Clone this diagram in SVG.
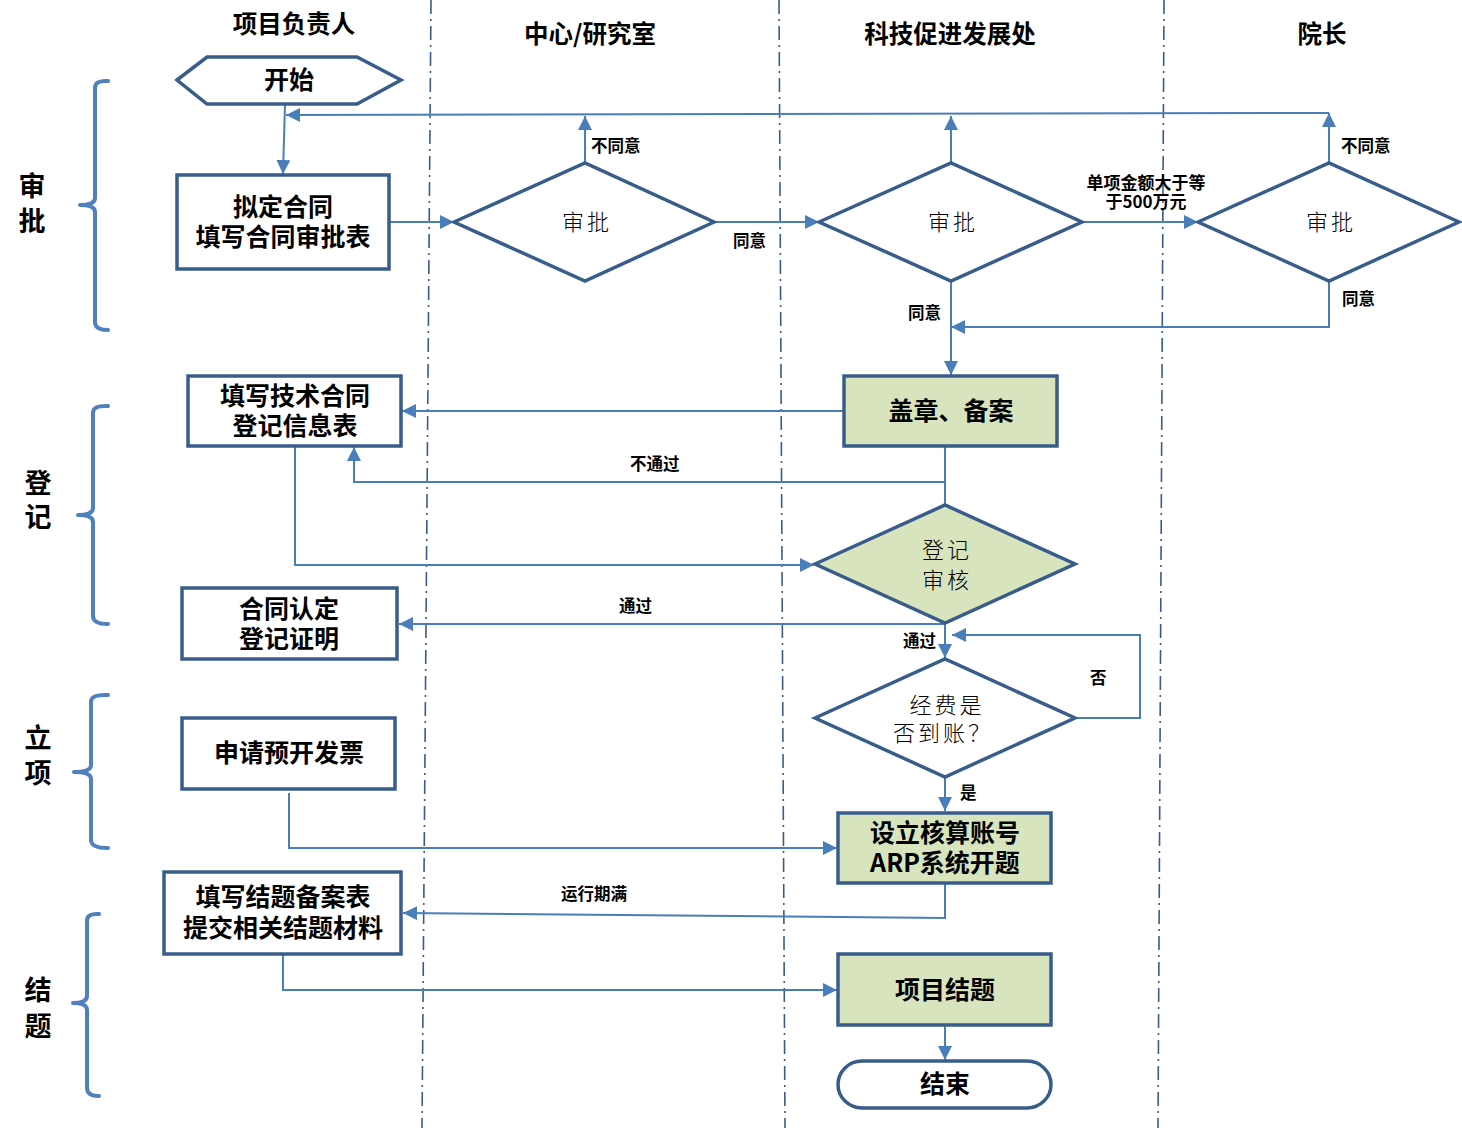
<svg xmlns="http://www.w3.org/2000/svg" width="1462" height="1128" viewBox="0 0 1462 1128">
<defs>
<style>
.lane{stroke:#3a5a8a;stroke-width:1.6;stroke-dasharray:14 5 2 5;fill:none}
.hdr{font-family:"Noto Sans CJK SC","Liberation Sans",sans-serif;font-weight:bold;font-size:24.5px;fill:#000;text-anchor:middle}
.side{font-family:"Noto Sans CJK SC","Liberation Sans",sans-serif;font-weight:bold;font-size:27px;fill:#000;text-anchor:middle}
.brace{stroke:#4f81bd;stroke-width:4;fill:none;stroke-linejoin:round;stroke-linecap:round}
.box{fill:#fff;stroke:#385d8a;stroke-width:3.5}
.gbox{fill:#d7e4bd;stroke:#385d8a;stroke-width:3.5}
.bt{font-family:"Noto Sans CJK SC","Liberation Sans",sans-serif;font-weight:bold;font-size:25px;fill:#000;text-anchor:middle}
.dt{font-family:"Noto Sans CJK SC","Liberation Sans",sans-serif;font-weight:300;font-size:22px;fill:#000;text-anchor:middle;letter-spacing:3px}
.lbl{font-family:"Noto Sans CJK SC","Liberation Sans",sans-serif;font-weight:bold;font-size:16.5px;fill:#000}
.c{stroke:#4a7ebb;stroke-width:2;fill:none}
</style>
<marker id="ahb" viewBox="0 0 10 10" refX="10" refY="5" markerWidth="14" markerHeight="14" markerUnits="userSpaceOnUse" orient="auto"><path d="M0,0 L10,5 L0,10 z" fill="#4a7ebb"/></marker>
</defs>
<rect width="1462" height="1128" fill="#fff"/>
<g id="lanes">
<line class="lane" x1="431" y1="0" x2="422" y2="1128"/>
<line class="lane" x1="779" y1="0" x2="785" y2="1128"/>
<line class="lane" x1="1164" y1="0" x2="1158" y2="1128"/>
</g>
<g id="headers">
<text class="hdr" x="294" y="33">项目负责人</text>
<text class="hdr" x="590" y="43">中心/研究室</text>
<text class="hdr" x="950" y="43">科技促进发展处</text>
<text class="hdr" x="1322" y="43">院长</text>
</g>
<g id="phases">
<path class="brace" d="M108,81 Q95,80 95,88 L95,198 Q95,205 80,205 Q95,205 95,212 L95,322 Q95,330 108,330"/>
<text class="side" x="32" y="196">审</text>
<text class="side" x="32" y="231">批</text>
<path class="brace" d="M108,406 Q93,405 93,413 L93,508 Q93,515 78,515 Q93,515 93,522 L93,616 Q93,624 108,624"/>
<text class="side" x="38" y="493">登</text>
<text class="side" x="38" y="527">记</text>
<path class="brace" d="M108,695 Q91,694 91,702 L91,765 Q91,772 74,772 Q91,772 91,779 L91,840 Q91,848 108,848"/>
<text class="side" x="38" y="748">立</text>
<text class="side" x="38" y="783">项</text>
<path class="brace" d="M99,914 Q87,913 87,921 L87,996 Q87,1003 73,1003 Q87,1003 87,1010 L87,1088 Q87,1096 99,1096"/>
<text class="side" x="38" y="1000">结</text>
<text class="side" x="38" y="1036">题</text>
</g>
<g id="connectors">
<polyline class="c" points="1329,113 286,115" marker-end="url(#ahb)"/>
<line class="c" x1="285" y1="104" x2="283" y2="174" marker-end="url(#ahb)"/>
<line class="c" x1="389" y1="222" x2="454" y2="222" marker-end="url(#ahb)"/>
<line class="c" x1="585" y1="163" x2="585" y2="116" marker-end="url(#ahb)"/>
<line class="c" x1="714" y1="222" x2="819" y2="222" marker-end="url(#ahb)"/>
<line class="c" x1="951" y1="163" x2="951" y2="116" marker-end="url(#ahb)"/>
<line class="c" x1="1082" y1="222" x2="1198" y2="222" marker-end="url(#ahb)"/>
<line class="c" x1="1329" y1="163" x2="1329" y2="113" marker-end="url(#ahb)"/>
<polyline class="c" points="1329,281 1329,327 951,327" marker-end="url(#ahb)"/>
<line class="c" x1="951" y1="281" x2="951" y2="375" marker-end="url(#ahb)"/>
<line class="c" x1="844" y1="411" x2="402" y2="411" marker-end="url(#ahb)"/>
<line class="c" x1="945" y1="446" x2="945" y2="505"/>
<polyline class="c" points="945,482 354,482 354,447" marker-end="url(#ahb)"/>
<polyline class="c" points="295,446 295,565 814,565" marker-end="url(#ahb)"/>
<polyline class="c" points="945,623 945,624 399,624" marker-end="url(#ahb)"/>
<line class="c" x1="945" y1="623" x2="945" y2="658" marker-end="url(#ahb)"/>
<polyline class="c" points="1075,718 1140,718 1140,635 952,635" marker-end="url(#ahb)"/>
<line class="c" x1="945" y1="777" x2="945" y2="811" marker-end="url(#ahb)"/>
<polyline class="c" points="289,793 289,848 837,848" marker-end="url(#ahb)"/>
<polyline class="c" points="945,883 945,918 403,913" marker-end="url(#ahb)"/>
<polyline class="c" points="283,954 283,990 837,990" marker-end="url(#ahb)"/>
<line class="c" x1="945" y1="1025" x2="945" y2="1060" marker-end="url(#ahb)"/>
<text class="lbl" x="591" y="152">不同意</text>
<text class="lbl" x="733" y="247">同意</text>
<text class="lbl" x="1341" y="152">不同意</text>
<text class="lbl" x="1146" y="189" text-anchor="middle" style="font-size:17px">单项金额大于等</text>
<text class="lbl" x="1146" y="208" text-anchor="middle" style="font-size:17px">于500万元</text>
<text class="lbl" x="1342" y="305">同意</text>
<text class="lbl" x="908" y="319">同意</text>
<text class="lbl" x="630" y="470">不通过</text>
<text class="lbl" x="619" y="612">通过</text>
<text class="lbl" x="903" y="647">通过</text>
<text class="lbl" x="1090" y="684">否</text>
<text class="lbl" x="960" y="799">是</text>
<text class="lbl" x="561" y="900">运行期满</text>
</g>
<g id="start">
<polygon class="box" points="177,80 207,57 357,57 401,80 357,104 207,104"/>
<text class="bt" x="289" y="89">开始</text>
</g>
<g id="draft">
<rect class="box" x="177" y="175" width="212" height="94"/>
<text class="bt" x="283" y="216">拟定合同</text>
<text class="bt" x="283" y="246">填写合同审批表</text>
</g>
<g id="review1">
<polygon class="box" points="454,222 585,163 714,222 585,281"/>
<text class="dt" x="587" y="230">审批</text>
</g>
<g id="review2">
<polygon class="box" points="819,222 951,163 1082,222 951,281"/>
<text class="dt" x="953" y="230">审批</text>
</g>
<g id="review3">
<polygon class="box" points="1198,222 1329,163 1459,222 1329,281"/>
<text class="dt" x="1331" y="230">审批</text>
</g>
<g id="stamp">
<rect class="gbox" x="844" y="376" width="213" height="70"/>
<text class="bt" x="951" y="420">盖章、备案</text>
</g>
<g id="fillreg">
<rect class="box" x="188" y="376" width="213" height="70"/>
<text class="bt" x="295" y="405">填写技术合同</text>
<text class="bt" x="295" y="435">登记信息表</text>
</g>
<g id="regcheck">
<polygon class="gbox" points="815,564 945,505 1075,564 945,623"/>
<text class="dt" x="947" y="558">登记</text>
<text class="dt" x="947" y="588">审核</text>
</g>
<g id="cert">
<rect class="box" x="182" y="588" width="215" height="71"/>
<text class="bt" x="289" y="618">合同认定</text>
<text class="bt" x="289" y="648">登记证明</text>
</g>
<g id="funds">
<polygon class="box" points="815,718 945,659 1075,718 945,777"/>
<text class="dt" x="947" y="713">经费是</text>
<text class="dt" x="943" y="741">否到账？</text>
</g>
<g id="invoice">
<rect class="box" x="182" y="718" width="213" height="71"/>
<text class="bt" x="289" y="762">申请预开发票</text>
</g>
<g id="account">
<rect class="gbox" x="838" y="813" width="213" height="70"/>
<text class="bt" x="945" y="842">设立核算账号</text>
<text class="bt" x="945" y="872">ARP系统开题</text>
</g>
<g id="closeform">
<rect class="box" x="164" y="872" width="237" height="82"/>
<text class="bt" x="283" y="906">填写结题备案表</text>
<text class="bt" x="283" y="937">提交相关结题材料</text>
</g>
<g id="closeproj">
<rect class="gbox" x="838" y="954" width="213" height="71"/>
<text class="bt" x="945" y="999">项目结题</text>
</g>
<g id="end">
<rect class="box" x="838" y="1061" width="213" height="47" rx="24" ry="24"/>
<text class="bt" x="945" y="1093">结束</text>
</g>
</svg>
